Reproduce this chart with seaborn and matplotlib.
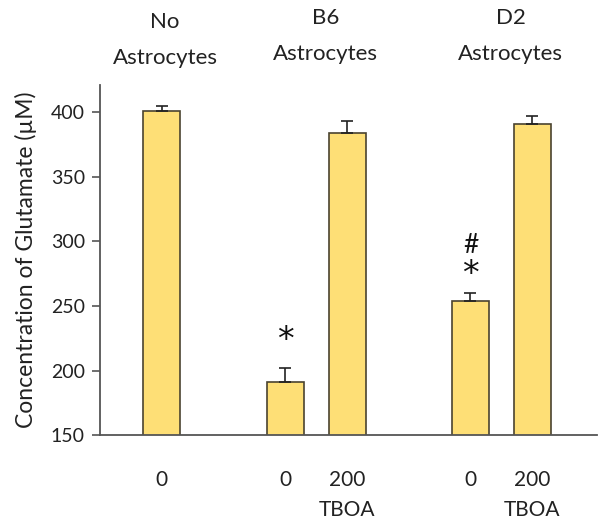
import numpy as np
import pandas as pd
import matplotlib
matplotlib.use('Agg')
import matplotlib.pyplot as plt
import matplotlib.transforms as mtransforms
import seaborn as sns

# data
group_top = ['No', 'B6', 'D2']
group_bottom = ['Astrocytes', 'Astrocytes', 'Astrocytes']
group_x = [0.05, 2.65, 5.65]
positions = [0, 2, 3, 5, 6]
tboa_labels = ['0', '0', '200', '0', '200']
glutamate = [401, 191, 384, 254, 391]
sem = [4, 11, 9, 6, 6]
star_y = [None, 223, None, 274, None]
hash_y = [None, None, None, 297, None]

df = pd.DataFrame({'pos': positions, 'glu': glutamate, 'sem': sem})

sns.set_style('ticks')
plt.rcParams['font.family'] = ['Lato', 'DejaVu Sans']

fig = plt.figure(figsize=(6, 5.25), dpi=100)
ax = fig.add_axes([0.167, 0.171, 0.828, 0.667])

bar_color = '#FEDF76'
edge_color = '#4a4330'
sns.barplot(data=df, x='pos', y='glu', native_scale=True, width=0.6,
            color=bar_color, edgecolor=edge_color, linewidth=1.2,
            saturation=1, errorbar=None, ax=ax)
for b in ax.patches:
    b.set_facecolor(bar_color)

# one-sided error bars
ax.errorbar(df['pos'], df['glu'], yerr=[np.zeros(len(df)), df['sem']],
            fmt='none', ecolor='#222222', elinewidth=1.2, capsize=4.5, capthick=1.2)

for p, s, h in zip(positions, star_y, hash_y):
    if s is not None:
        ax.text(p, s, '*', ha='center', va='center', fontsize=24,
                family='DejaVu Sans', color='#111111')
    if h is not None:
        ax.text(p, h, '#', ha='center', va='center', fontsize=19,
                color='#111111')

ax.set_ylim(150, 421)
ax.set_xlim(-1, 7.05)
ax.set_yticks([150, 200, 250, 300, 350, 400])
ax.set_yticklabels(['150', '200', '250', '300', '350', '400'], fontsize=14, color='#222222')
ax.set_xticks(positions)
ax.set_xticklabels(tboa_labels, fontsize=15, color='#222222')
ax.tick_params(axis='x', length=0, pad=25)
ax.tick_params(axis='y', length=6, width=1.2, color='#555555', direction='out', pad=5)
ax.set_xlabel('')
ax.set_ylabel('Concentration of Glutamate (\u00b5M)', fontsize=16.5, color='#222222', labelpad=10)

for side in ['top', 'right']:
    ax.spines[side].set_visible(False)
for side in ['left', 'bottom']:
    ax.spines[side].set_color('#555555')
    ax.spines[side].set_linewidth(1.3)

# TBOA labels under the 200 uM bars
trans = mtransforms.blended_transform_factory(ax.transData, fig.transFigure)
for p, lab in zip(positions, tboa_labels):
    if lab == '200':
        fig.text(p, 1 - 510 / 525, 'TBOA', transform=trans, ha='center', va='center',
                 fontsize=15, color='#222222')

# group headings
for i, (gx, t, b) in enumerate(zip(group_x, group_top, group_bottom)):
    dy = 0 if i == 0 else -4
    fig.text(gx, 1 - (22 + dy) / 525, t, transform=trans, ha='center', va='center',
             fontsize=16, color='#222222')
    fig.text(gx, 1 - (58 + dy) / 525, b, transform=trans, ha='center', va='center',
             fontsize=16, color='#222222')

fig.savefig('out.png', dpi=100)
